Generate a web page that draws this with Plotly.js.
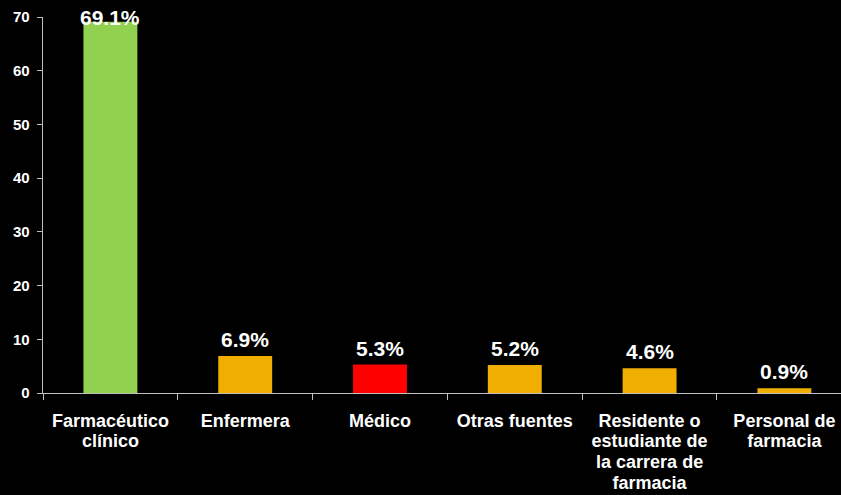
<!DOCTYPE html>
<html>
<head>
<meta charset="utf-8">
<script src="https://cdn.plot.ly/plotly-3.0.1.min.js"></script>
<style>html,body{margin:0;padding:0;background:#000;}#chart{width:841px;height:495px;}</style>
</head>
<body>
<div id="chart"></div>
<script>
const categories = ["Farmacéutico clínico", "Enfermera", "Médico", "Otras fuentes", "Residente o estudiante de la carrera de farmacia", "Personal de farmacia"];
const tickLabels = ["Farmacéutico<br>clínico", "Enfermera", "Médico", "Otras fuentes", "Residente o<br>estudiante de<br>la carrera de<br>farmacia", "Personal de<br>farmacia"];
const values = [69.1, 6.9, 5.3, 5.2, 4.6, 0.9];
const valueLabels = ["69.1%", "6.9%", "5.3%", "5.2%", "4.6%", "0.9%"];
const barColors = ["#92D050", "#F0AE00", "#FF0000", "#F0AE00", "#F0AE00", "#F0AE00"];
const yTicks = [0, 10, 20, 30, 40, 50, 60, 70];

const yMax = 70;
const font = "Liberation Sans, Arial, sans-serif";

const annotations = values.map((v, i) => {
  const over = v > yMax - 4;
  return {
    x: categories[i], y: over ? yMax : v, xref: "x", yref: "y",
    text: "<b>" + valueLabels[i] + "</b>", showarrow: false,
    yanchor: over ? "middle" : "bottom", yshift: over ? 0 : 3,
    font: {family: font, size: 21, color: "#FFFFFF"}
  };
});

const trace = {
  type: "bar", x: categories, y: values, width: 0.4,
  marker: {color: barColors, line: {width: 0}},
  hoverinfo: "none"
};

const fmtTick = t => t.split("<br>").map(s => '<span style="font-size:18px"><b>' + s + '</b></span>').join("<br>");

const layout = {
  width: 841, height: 495,
  margin: {l: 43, r: 0, t: 17, b: 102, pad: 0},
  paper_bgcolor: "#000000", plot_bgcolor: "#000000",
  showlegend: false, bargap: 0.6,
  font: {family: font, color: "#FFFFFF"},
  xaxis: {
    type: "category", range: [-0.5, 5.42],
    tickmode: "array", tickvals: categories, ticktext: tickLabels.map(fmtTick),
    showline: true, linecolor: "#BFBFBF", linewidth: 1.3,
    ticks: "outside", tickson: "boundaries", ticklen: 6, tickcolor: "#BFBFBF", tickwidth: 1,
    ticklabelstandoff: 13,
    tickfont: {family: font, size: 16, color: "#FFFFFF"},
    showgrid: false, zeroline: false, fixedrange: true
  },
  yaxis: {
    range: [0, yMax], tickmode: "array", tickvals: yTicks,
    ticktext: yTicks.map(t => "<b>" + t + "</b>"),
    showline: true, linecolor: "#BFBFBF", linewidth: 1.3,
    ticks: "outside", ticklen: 5, tickcolor: "#BFBFBF", tickwidth: 1,
    ticklabelstandoff: 4,
    tickfont: {family: font, size: 15, color: "#FFFFFF"},
    showgrid: false, zeroline: false, fixedrange: true
  },
  annotations: annotations
};

Plotly.newPlot("chart", [trace], layout, {staticPlot: true, displayModeBar: false});
</script>
</body>
</html>
